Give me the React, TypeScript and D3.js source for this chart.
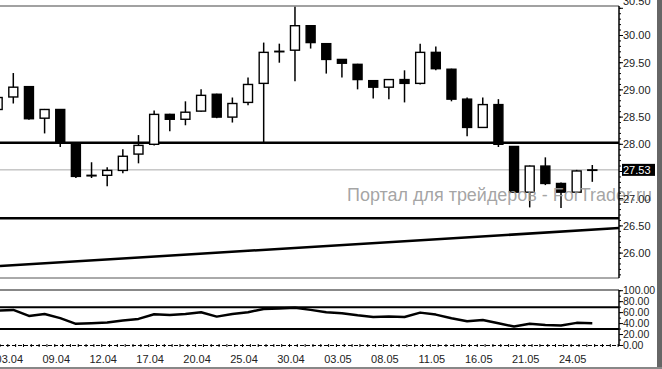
import React from 'react';
import * as d3 from 'd3';

const dates = ['02.04','03.04','04.04','05.04','09.04','10.04','11.04','12.04','13.04','16.04','17.04','18.04','19.04','20.04','23.04','24.04','25.04','26.04','27.04','30.04','01.05','02.05','03.05','04.05','07.05','08.05','09.05','10.05','11.05','14.05','15.05','16.05','17.05','18.05','21.05','22.05','23.05','24.05','25.05'];
const opens = [28.64, 28.87, 29.06, 28.48, 28.64, 28.02, 27.42, 27.43, 27.52, 27.82, 28.00, 28.55, 28.46, 28.61, 28.92, 28.50, 28.77, 29.12, 29.71, 29.73, 30.18, 29.85, 29.56, 29.47, 29.17, 29.05, 29.19, 29.12, 29.69, 29.38, 28.83, 28.31, 28.73, 27.96, 27.12, 27.60, 27.28, 27.12, 27.53];
const highs = [28.90, 29.31, 29.07, 28.65, 28.65, 28.03, 27.67, 27.58, 27.91, 28.17, 28.62, 28.56, 28.79, 29.01, 28.93, 28.86, 29.23, 29.87, 29.85, 30.53, 30.19, 29.86, 29.57, 29.48, 29.18, 29.20, 29.36, 29.85, 29.80, 29.39, 28.86, 28.86, 28.83, 27.97, 27.61, 27.76, 27.30, 27.53, 27.62];
const lows = [28.60, 28.75, 28.45, 28.20, 27.95, 27.38, 27.38, 27.23, 27.47, 27.65, 27.98, 28.24, 28.35, 28.60, 28.48, 28.40, 28.72, 28.02, 29.50, 29.16, 29.76, 29.30, 29.23, 29.01, 28.84, 28.83, 28.77, 29.10, 29.36, 28.79, 28.15, 28.30, 27.95, 27.11, 26.84, 27.25, 26.83, 27.11, 27.31];
const closes = [28.86, 29.05, 28.47, 28.64, 28.04, 27.41, 27.43, 27.52, 27.78, 27.98, 28.55, 28.46, 28.59, 28.90, 28.50, 28.75, 29.10, 29.69, 29.71, 30.18, 29.87, 29.56, 29.49, 29.19, 29.05, 29.19, 29.12, 29.69, 29.39, 28.83, 28.31, 28.73, 28.00, 27.12, 27.60, 27.28, 27.12, 27.51, 27.53];
const rsi = [63.6, 65, 54, 57.6, 50, 39.5, 40.7, 41.8, 45.5, 48.5, 57, 55.8, 57.6, 60.7, 52.7, 57.6, 60.7, 66.7, 67.3, 69, 65, 60.7, 59, 55.2, 52.2, 52.7, 52, 60, 56.4, 49.8, 44.3, 46.7, 40.7, 34.5, 39.5, 37.6, 36.4, 41.3, 40.7];
const dateLabels = ['03.04','09.04','12.04','17.04','20.04','25.04','30.04','03.05','08.05','11.05','16.05','21.05','24.05'];
const priceTicks = [26.0, 26.5, 27.0, 27.5, 28.0, 28.5, 29.0, 29.5, 30.0, 30.5];
const rsiTicks = [0, 20, 40, 60, 80, 100];
const levels = [28.03, 26.64];
const lastPrice = 27.53;
const trendStart = 25.76; // at first candle
const trendEnd = 26.43;   // at last candle
const rsiLevels = [30, 70];
const watermark = 'Портал для трейдеров - ForTrader.ru';

const W = 662, H = 369;
const AX = 619;
const TOP = 6, MAIN_BOTTOM = 278, RSI_TOP = 290, RSI_BOTTOM = 345.5;
const FONT = '"Liberation Sans", Arial, sans-serif';

export default function App() {
  React.useEffect(() => { document.body.style.margin = '0'; }, []);
  const x = d3.scalePoint<string>().domain(dates).range([-2.35, 592.3]);
  const y = d3.scaleLinear().domain([26, 30]).range([253.1, 35.5]);
  const yR = d3.scaleLinear().domain([0, 100]).range([RSI_BOTTOM, 290.7]);
  const step = x.step();
  const bw = 9;

  const idx = d3.scaleLinear().domain([0, dates.length - 1]).range([x(dates[0])!, x(dates[dates.length - 1])!]);
  const trendPrice = d3.scaleLinear().domain([0, dates.length - 1]).range([trendStart, trendEnd]);
  const tx0 = 0, tx1 = AX;
  const ty0 = y(trendPrice(idx.invert(tx0)));
  const ty1 = y(trendPrice(idx.invert(tx1)));

  const rsiLine = d3.line<number>().x((_, i) => x(dates[i])!).y(d => yR(d));

  const minorMain = d3.range(25.6, 30.55, 0.1).map(v => +v.toFixed(2));
  const minorRsi = d3.range(0, 101, 10);
  const axisTicks = d3.range(0, AX, step / 2);

  return (
    <svg width={W} height={H} style={{ position: 'absolute', left: 0, top: 0, background: '#fff' }} fontFamily={FONT}>
      <defs>
        <clipPath id="mainClip"><rect x={0} y={TOP} width={AX} height={MAIN_BOTTOM - TOP} /></clipPath>
        <clipPath id="rsiClip"><rect x={0} y={RSI_TOP} width={AX} height={RSI_BOTTOM - RSI_TOP} /></clipPath>
      </defs>
      <rect x={0} y={0} width={W} height={H} fill="#fff" />

      {/* main panel frame */}
      <line x1={0} x2={AX} y1={TOP} y2={TOP} stroke="#444" strokeWidth={1.2} />
      <line x1={0} x2={AX} y1={MAIN_BOTTOM} y2={MAIN_BOTTOM} stroke="#555" strokeWidth={1} />

      <g clipPath="url(#mainClip)">
        <line x1={0} x2={AX} y1={y(lastPrice)} y2={y(lastPrice)} stroke="#aaa" strokeWidth={1} />
        {levels.map((l, i) => (
          <line key={i} x1={0} x2={AX} y1={y(l)} y2={y(l)} stroke="#000" strokeWidth={2.5} />
        ))}
        <line x1={tx0} x2={tx1} y1={ty0} y2={ty1} stroke="#000" strokeWidth={2.5} />
        {dates.map((d, i) => {
          const cx = x(d)!;
          const o = opens[i], c = closes[i];
          const up = c >= o;
          const top = y(Math.max(o, c)), bot = y(Math.min(o, c));
          return (
            <g key={d}>
              <line x1={cx} x2={cx} y1={y(highs[i])} y2={y(lows[i])} stroke="#000" strokeWidth={1.5} />
              <rect x={cx - bw / 2} y={top} width={bw} height={Math.max(bot - top, 0.5)}
                fill={up ? '#fff' : '#000'} stroke="#000" strokeWidth={1.4} />
            </g>
          );
        })}
      </g>

      <text x={347} y={201} fontFamily={FONT} fontSize={17.5} fill="#9c9c9c" fillOpacity={0.92}
        textLength={305} lengthAdjust="spacingAndGlyphs">{watermark}</text>

      {/* right price axis */}
      <line x1={AX} x2={AX} y1={TOP} y2={MAIN_BOTTOM} stroke="#000" strokeWidth={1.5} />
      {minorMain.map(v => (
        <line key={'m' + v} x1={AX} x2={AX + 2} y1={y(v)} y2={y(v)} stroke="#000" strokeWidth={1} />
      ))}
      {priceTicks.map((v, i) => (
        <g key={'p' + v}>
          <line x1={AX} x2={AX + 4} y1={y(v)} y2={y(v)} stroke="#000" strokeWidth={1} />
          <text x={AX + 4} y={i === priceTicks.length - 1 ? y(v) - 7 : y(v)} dy="0.35em" fontSize={11} fill="#222">{v.toFixed(2)}</text>
        </g>
      ))}
      <rect x={AX + 3} y={y(lastPrice) - 6} width={33} height={12} fill="#000" />
      <text x={AX + 4} y={y(lastPrice)} dy="0.35em" fontSize={11} fill="#fff">{lastPrice.toFixed(2)}</text>

      {/* RSI panel */}
      <line x1={0} x2={AX} y1={RSI_TOP} y2={RSI_TOP} stroke="#888" strokeWidth={2} />
      <g clipPath="url(#rsiClip)">
        {rsiLevels.map(l => (
          <line key={l} x1={0} x2={AX} y1={yR(l)} y2={yR(l)} stroke="#000" strokeWidth={2} />
        ))}
        <path d={rsiLine(rsi) || ''} fill="none" stroke="#000" strokeWidth={2.5} strokeLinejoin="round" />
      </g>
      <line x1={AX} x2={AX} y1={RSI_TOP} y2={RSI_BOTTOM} stroke="#000" strokeWidth={1.5} />
      {minorRsi.map(v => (
        <line key={'mr' + v} x1={AX} x2={AX + 2} y1={yR(v)} y2={yR(v)} stroke="#000" strokeWidth={1} />
      ))}
      {rsiTicks.map(v => (
        <g key={'r' + v}>
          <line x1={AX} x2={AX + 4} y1={yR(v)} y2={yR(v)} stroke="#000" strokeWidth={1} />
          <text x={AX + 4} y={yR(v)} dy="0.35em" fontSize={10.5} fill="#222">{v.toFixed(2)}</text>
        </g>
      ))}

      {/* bottom date axis */}
      <line x1={0} x2={AX} y1={RSI_BOTTOM} y2={RSI_BOTTOM} stroke="#000" strokeWidth={1} strokeDasharray="4 2" />
      {axisTicks.map((t, i) => (
        <line key={'t' + i} x1={t} x2={t} y1={RSI_BOTTOM - 1.5} y2={RSI_BOTTOM + 1.5} stroke="#000" strokeWidth={1} />
      ))}
      {dateLabels.map(l => (
        <text key={l} x={x(l)! - 4} y={363} textAnchor="middle" fontSize={11} fill="#222">{l}</text>
      ))}

      {/* outer frame bands */}
      <rect x={657} y={0} width={5} height={H} fill="#666" />
      <rect x={0} y={367} width={W} height={2} fill="#888" />
    </svg>
  );
}
